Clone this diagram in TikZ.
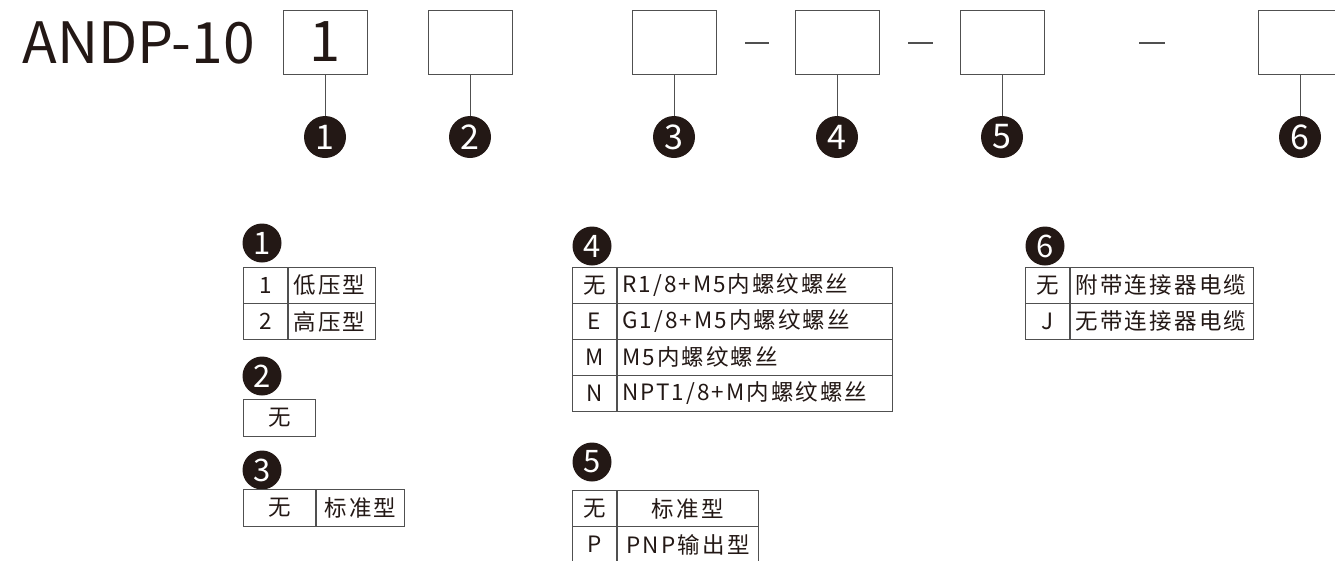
\documentclass[tikz,border=0pt]{standalone}
\usepackage{fontspec}
\setmainfont{Noto Sans CJK SC}
\newfontfamily\cellfont[LetterSpace=10]{Noto Sans CJK SC}
\newfontfamily\widefont[LetterSpace=9]{Noto Sans CJK SC}
\definecolor{ink}{HTML}{231815}
\definecolor{rulegray}{HTML}{505050}

\begin{document}
\begin{tikzpicture}[x=1pt,y=-1pt,text=ink,
    slot/.style={draw=rulegray,line width=1pt,minimum width=84pt,minimum height=64pt,inner sep=0pt,font=\fontsize{56}{56}\selectfont},
    bignum/.style={circle,fill=ink,text=white,minimum size=42pt,inner sep=0pt,font=\fontsize{34}{34}\selectfont},
    smallnum/.style={circle,fill=ink,text=white,minimum size=39pt,inner sep=0pt,font=\fontsize{31}{31}\selectfont},
    cell/.style={draw=rulegray,line width=0.9pt,minimum height=36pt,inner sep=0pt,anchor=north west,font=\cellfont\fontsize{22.5}{22.5}\selectfont},
    keycell/.style={cell,minimum width=#1pt},
    valcell/.style={cell,text width=#1pt,inner xsep=5pt,align=left}]
  \useasboundingbox (0,0) rectangle (1335,560);
  \node[anchor=base west,font=\fontsize{57}{57}\selectfont] (model) at (19,63) {ANDP-10};
  \foreach \n/\x/\t in {1/325/1,2/470/{},3/674/{},4/837/{},5/1002/{},6/1300/{}}{
    \node[slot] (b\n) at (\x,42) {\t};
    \node[bignum] (c\n) at (\x,137) {\n};
    \draw[rulegray,line width=1pt] (b\n.south) -- (c\n.north);
  }
  \foreach \a/\b in {745/769,908/933,1139/1165}
    \draw[rulegray,line width=1.3pt] (\a,43) -- (\b,43);

  \foreach \n/\x/\y in {1/262/243,2/262/376,3/262/470,4/592/246,5/592/462,6/1045/246}
    \node[smallnum] (l\n) at (\x,\y) {\n};

  \foreach \k/\v [count=\i] in {1/低压型,2/高压型}{
    \node[keycell=44] (ak\i) at (243,{231+36*\i}) {\k};
    \node[valcell=77] (av\i) at (ak\i.north east) {\v};
  }
  \node[keycell=72,minimum height=37pt] (bk1) at (243,399) {无};
  \node[keycell=72,minimum height=37pt] (ck1) at (243,489) {无};
  \node[keycell=88,minimum height=37pt] (cv1) at (ck1.north east) {标准型};
  \foreach \k/\v [count=\i] in {无/{R1/8+M5内螺纹螺丝},E/{G1/8+M5内螺纹螺丝},M/{M5内螺纹螺丝},N/{NPT1/8+M内螺纹螺丝}}{
    \node[keycell=44] (dk\i) at (572,{231+36*\i}) {\k};
    \node[valcell=265,font=\widefont\fontsize{22.5}{22.5}\selectfont] (dv\i) at (dk\i.north east) {\v};
  }
  \foreach \k/\v [count=\i] in {无/标准型,P/PNP输出型}{
    \node[keycell=44] (ek\i) at (572,{454+36*\i}) {\k};
    \node[keycell=141] (ev\i) at (ek\i.north east) {\v};
  }
  \foreach \k/\v [count=\i] in {无/附带连接器电缆,J/无带连接器电缆}{
    \node[keycell=44] (fk\i) at (1025,{231+36*\i}) {\k};
    \node[valcell=173] (fv\i) at (fk\i.north east) {\v};
  }
\end{tikzpicture}
\end{document}
